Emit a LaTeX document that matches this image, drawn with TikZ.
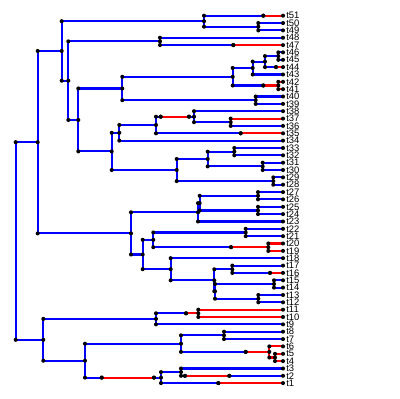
\documentclass[tikz,border=0pt]{standalone}
\usepackage{fontspec}
\setmainfont{Liberation Sans}
\usepackage{tikz}
\usetikzlibrary{calc}
\pgfdeclarelayer{bg}
\pgfsetlayers{bg,main}
\definecolor{brblue}{RGB}{0,0,255}
\definecolor{brred}{RGB}{255,0,0}
\tikzset{
  bl/.style={draw=brblue, line width=1.45pt},
  rd/.style={draw=brred, line width=1.45pt},
  tiplab/.style={anchor=west, inner xsep=2.2pt, inner ysep=0pt, font=\fontsize{6.7}{6.7}\selectfont}
}
% one elbow branch: vertical at the parent, then horizontal to the child, dots at both ends
\newcommand{\treebranch}[3][bl]{%
  \begin{pgfonlayer}{bg}\draw[#1] (#2) |- (#3);\end{pgfonlayer}
  \fill (#2 |- #3) circle[radius=1.45pt] (#3) circle[radius=1.45pt];}

\begin{document}
\begin{tikzpicture}[x=0.025cm, y=-0.025cm]
    \useasboundingbox (0,0) rectangle (400,399);

    % tips
    \node[tiplab] (t51) at (283,15.7) {t51};
    \node[tiplab] (t50) at (283,23.05) {t50};
    \node[tiplab] (t49) at (283,30.4) {t49};
    \node[tiplab] (t48) at (283,37.75) {t48};
    \node[tiplab] (t47) at (283,45.1) {t47};
    \node[tiplab] (t46) at (283,52.4) {t46};
    \node[tiplab] (t45) at (283,59.8) {t45};
    \node[tiplab] (t44) at (283,67.1) {t44};
    \node[tiplab] (t43) at (283,74.5) {t43};
    \node[tiplab] (t42) at (283,81.8) {t42};
    \node[tiplab] (t41) at (283,89.2) {t41};
    \node[tiplab] (t40) at (283,96.5) {t40};
    \node[tiplab] (t39) at (283,103.9) {t39};
    \node[tiplab] (t38) at (283,111.2) {t38};
    \node[tiplab] (t37) at (283,118.6) {t37};
    \node[tiplab] (t36) at (283,125.9) {t36};
    \node[tiplab] (t35) at (283,133.3) {t35};
    \node[tiplab] (t34) at (283,140.6) {t34};
    \node[tiplab] (t33) at (283,148.0) {t33};
    \node[tiplab] (t32) at (283,155.3) {t32};
    \node[tiplab] (t31) at (283,162.7) {t31};
    \node[tiplab] (t30) at (283,170.0) {t30};
    \node[tiplab] (t29) at (283,177.4) {t29};
    \node[tiplab] (t28) at (283,184.7) {t28};
    \node[tiplab] (t27) at (283,192.1) {t27};
    \node[tiplab] (t26) at (283,199.4) {t26};
    \node[tiplab] (t25) at (283,206.8) {t25};
    \node[tiplab] (t24) at (283,214.1) {t24};
    \node[tiplab] (t23) at (283,221.5) {t23};
    \node[tiplab] (t22) at (283,228.8) {t22};
    \node[tiplab] (t21) at (283,236.2) {t21};
    \node[tiplab] (t20) at (283,243.5) {t20};
    \node[tiplab] (t19) at (283,250.9) {t19};
    \node[tiplab] (t18) at (283,258.2) {t18};
    \node[tiplab] (t17) at (283,265.6) {t17};
    \node[tiplab] (t16) at (283,272.9) {t16};
    \node[tiplab] (t15) at (283,280.3) {t15};
    \node[tiplab] (t14) at (283,287.6) {t14};
    \node[tiplab] (t13) at (283,295.0) {t13};
    \node[tiplab] (t12) at (283,302.3) {t12};
    \node[tiplab] (t11) at (283,309.7) {t11};
    \node[tiplab] (t10) at (283,317.0) {t10};
    \node[tiplab] (t9) at (283,324.4) {t9};
    \node[tiplab] (t8) at (283,331.7) {t8};
    \node[tiplab] (t7) at (283,339.1) {t7};
    \node[tiplab] (t6) at (283,346.4) {t6};
    \node[tiplab] (t5) at (283,353.8) {t5};
    \node[tiplab] (t4) at (283,361.1) {t4};
    \node[tiplab] (t3) at (283,368.5) {t3};
    \node[tiplab] (t2) at (283,375.8) {t2};
    \node[tiplab] (t1) at (283,383.1) {t1};

    % inner nodes
    \coordinate (rt) at (15.7,241);
    \coordinate (A) at (37.7,142.2);
    \coordinate (B) at (61.7,51.0);
    \coordinate (C) at (204,21.2);
    \coordinate (D) at (258.3,26.7);
    \coordinate (E) at (68.3,80.7);
    \coordinate (F) at (160,41.4);
    \coordinate (G) at (78.3,120.0);
    \coordinate (H) at (122.3,88.5);
    \coordinate (I) at (232.7,76.8);
    \coordinate (J) at (252.7,68.0);
    \coordinate (K) at (265,61.6);
    \coordinate (L) at (278.3,56.1);
    \coordinate (M) at (278.3,85.5);
    \coordinate (N) at (255.7,100.2);
    \coordinate (O) at (111.7,151.4);
    \coordinate (P) at (119.3,132.8);
    \coordinate (Q) at (156,125.0);
    \coordinate (R) at (194,116.7);
    \coordinate (S) at (230.7,122.2);
    \coordinate (T) at (176.7,170.0);
    \coordinate (U) at (207.7,159.0);
    \coordinate (V) at (234.3,151.7);
    \coordinate (W) at (262.7,166.4);
    \coordinate (X) at (273.3,181.1);
    \coordinate (Y) at (131,233.4);
    \coordinate (Z1) at (198,212.3);
    \coordinate (Z2) at (199.7,203.1);
    \coordinate (Z3) at (258,195.8);
    \coordinate (Z4) at (258,210.5);
    \coordinate (AA) at (142.7,254.5);
    \coordinate (AB) at (153.3,239.8);
    \coordinate (AC) at (245.7,232.5);
    \coordinate (AD) at (268.3,247.2);
    \coordinate (AE) at (170.7,269.2);
    \coordinate (AF1) at (214.3,280.3);
    \coordinate (AF2) at (215,291.3);
    \coordinate (AG) at (232.3,269.3);
    \coordinate (AH) at (274,284);
    \coordinate (AI) at (258.3,298.7);
    \coordinate (BA) at (43.3,339.8);
    \coordinate (BB) at (156,318.9);
    \coordinate (BC) at (198.3,313.3);
    \coordinate (BD) at (85,360.7);
    \coordinate (BE) at (181,343.7);
    \coordinate (BF) at (224,335.4);
    \coordinate (BG) at (269.3,351.9);
    \coordinate (BH) at (275,357.5);
    \coordinate (BI) at (161,377.6);
    \coordinate (BJ) at (181,372.1);

    % points where the state changes
    \coordinate (c51) at (263.3,15.7);
    \coordinate (c47) at (233.3,45.1);
    \coordinate (c44) at (276,67.1);
    \coordinate (cM) at (263.3,85.5);
    \coordinate (cR1) at (160.7,116.7);
    \coordinate (cR2) at (189,116.7);
    \coordinate (c35) at (240.7,133.3);
    \coordinate (cD) at (231,247.2);
    \coordinate (c16) at (270,272.9);
    \coordinate (cC) at (186,313.3);
    \coordinate (cG) at (245.7,351.9);
    \coordinate (cI1) at (101.7,377.6);
    \coordinate (cI2) at (154,377.6);
    \coordinate (c1) at (218.3,383.1);
    \coordinate (c2a) at (185,375.8);
    \coordinate (c2b) at (229.3,375.8);

    % branches
    \treebranch{rt}{A}
    \treebranch{rt}{BA}
    \treebranch{A}{B}
    \treebranch{A}{Y}
    \treebranch{B}{C}
    \treebranch{B}{E}
    \treebranch{C}{c51}
    \treebranch[rd]{c51}{t51.west}
    \treebranch{C}{D}
    \treebranch{D}{t50.west}
    \treebranch{D}{t49.west}
    \treebranch{E}{F}
    \treebranch{E}{G}
    \treebranch{F}{t48.west}
    \treebranch{F}{c47}
    \treebranch[rd]{c47}{t47.west}
    \treebranch{G}{H}
    \treebranch{G}{O}
    \treebranch{H}{I}
    \treebranch{H}{N}
    \treebranch{I}{J}
    \treebranch{I}{cM}
    \treebranch[rd]{cM}{M}
    \treebranch{J}{K}
    \treebranch{J}{t43.west}
    \treebranch{K}{L}
    \treebranch{K}{c44}
    \treebranch[rd]{c44}{t44.west}
    \treebranch{L}{t46.west}
    \treebranch{L}{t45.west}
    \treebranch[rd]{M}{t42.west}
    \treebranch[rd]{M}{t41.west}
    \treebranch{N}{t40.west}
    \treebranch{N}{t39.west}
    \treebranch{O}{P}
    \treebranch{O}{T}
    \treebranch{P}{Q}
    \treebranch{P}{t34.west}
    \treebranch{Q}{cR1}
    \treebranch[rd]{cR1}{cR2}
    \treebranch{cR2}{R}
    \treebranch{Q}{c35}
    \treebranch[rd]{c35}{t35.west}
    \treebranch{R}{t38.west}
    \treebranch{R}{S}
    \treebranch[rd]{S}{t37.west}
    \treebranch{S}{t36.west}
    \treebranch{T}{U}
    \treebranch{T}{X}
    \treebranch{U}{V}
    \treebranch{U}{W}
    \treebranch{V}{t33.west}
    \treebranch{V}{t32.west}
    \treebranch{W}{t31.west}
    \treebranch{W}{t30.west}
    \treebranch{X}{t29.west}
    \treebranch{X}{t28.west}
    \treebranch{Y}{Z1}
    \treebranch{Y}{AA}
    \treebranch{Z1}{Z2}
    \treebranch{Z1}{t23.west}
    \treebranch{Z2}{Z3}
    \treebranch{Z2}{Z4}
    \treebranch{Z3}{t27.west}
    \treebranch{Z3}{t26.west}
    \treebranch{Z4}{t25.west}
    \treebranch{Z4}{t24.west}
    \treebranch{AA}{AB}
    \treebranch{AA}{AE}
    \treebranch{AB}{AC}
    \treebranch{AB}{cD}
    \treebranch[rd]{cD}{AD}
    \treebranch{AC}{t22.west}
    \treebranch{AC}{t21.west}
    \treebranch[rd]{AD}{t20.west}
    \treebranch[rd]{AD}{t19.west}
    \treebranch{AE}{t18.west}
    \treebranch{AE}{AF1}
    \treebranch{AF1}{AG}
    \treebranch{AF1}{AF2}
    \treebranch{AG}{t17.west}
    \treebranch{AG}{c16}
    \treebranch[rd]{c16}{t16.west}
    \treebranch{AF2}{AH}
    \treebranch{AF2}{AI}
    \treebranch{AH}{t15.west}
    \treebranch{AH}{t14.west}
    \treebranch{AI}{t13.west}
    \treebranch{AI}{t12.west}
    \treebranch{BA}{BB}
    \treebranch{BA}{BD}
    \treebranch{BB}{cC}
    \treebranch[rd]{cC}{BC}
    \treebranch{BB}{t9.west}
    \treebranch[rd]{BC}{t11.west}
    \treebranch[rd]{BC}{t10.west}
    \treebranch{BD}{BE}
    \treebranch{BD}{cI1}
    \treebranch[rd]{cI1}{cI2}
    \treebranch{cI2}{BI}
    \treebranch{BE}{BF}
    \treebranch{BE}{cG}
    \treebranch[rd]{cG}{BG}
    \treebranch{BF}{t8.west}
    \treebranch{BF}{t7.west}
    \treebranch[rd]{BG}{t6.west}
    \treebranch[rd]{BG}{BH}
    \treebranch[rd]{BH}{t5.west}
    \treebranch[rd]{BH}{t4.west}
    \treebranch{BI}{BJ}
    \treebranch{BI}{c1}
    \treebranch[rd]{c1}{t1.west}
    \treebranch{BJ}{t3.west}
    \treebranch{BJ}{c2a}
    \treebranch[rd]{c2a}{c2b}
    \treebranch{c2b}{t2.west}
\end{tikzpicture}
\end{document}
